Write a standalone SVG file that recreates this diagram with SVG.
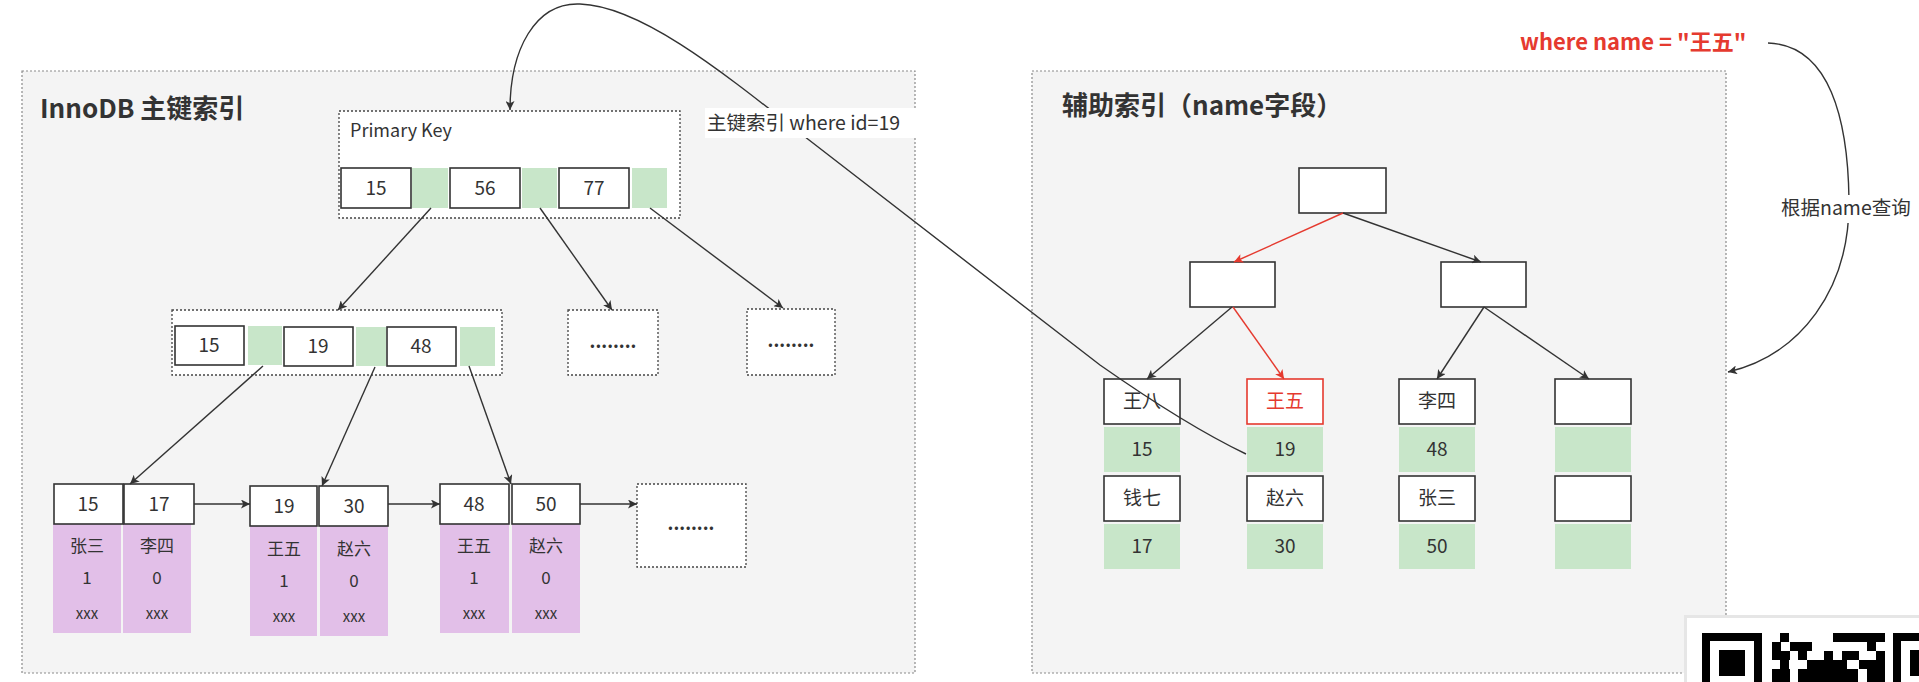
<svg xmlns="http://www.w3.org/2000/svg" width="1919" height="682" viewBox="0 0 1919 682">
<style>
text{font-family:"Noto Sans CJK SC","Noto Sans",sans-serif;fill:#333;}
.cont{fill:#f4f4f4;stroke:#8a8a8a;stroke-width:1.2;stroke-dasharray:2 2;}
.dot{fill:#fff;stroke:#444;stroke-width:1.3;stroke-dasharray:2 2;}
.cell{fill:#fff;stroke:#333;stroke-width:1.6;}
.g{fill:#c8e6c9;}
.p{fill:#e2bfe8;}
.t{font-size:19px;text-anchor:middle;}
.s{font-size:17px;text-anchor:middle;}
.x{font-size:15px;text-anchor:middle;}
.title{font-size:26px;font-weight:bold;}
.dots{font-size:18px;font-weight:bold;text-anchor:middle;}
.e{fill:none;stroke:#333;stroke-width:1.4;marker-end:url(#a);}
.r{fill:none;stroke:#e53a2f;stroke-width:1.4;marker-end:url(#ar);}
</style>
<defs>
<marker id="a" viewBox="0 0 10 10" refX="10" refY="5" markerWidth="11" markerHeight="9" markerUnits="userSpaceOnUse" orient="auto"><path d="M0,0 L10,5 L0,10 L2.5,5 z" fill="#333"/></marker>
<marker id="ar" viewBox="0 0 10 10" refX="10" refY="5" markerWidth="11" markerHeight="9" markerUnits="userSpaceOnUse" orient="auto"><path d="M0,0 L10,5 L0,10 L2.5,5 z" fill="#e53a2f"/></marker>
</defs>
<rect width="1919" height="682" fill="#fff"/>

<g id="innodb-container">
<rect class="cont" x="22" y="71" width="893" height="602"/>
<text class="title" x="40" y="118">InnoDB 主键索引</text>
</g>

<g id="secondary-container">
<rect class="cont" x="1032" y="71" width="694" height="602"/>
<text class="title" x="1062" y="115">辅助索引（name字段）</text>
</g>

<g id="pk-root">
<rect class="dot" x="339" y="111" width="341" height="107"/>
<text x="350" y="137" style="font-size:18px">Primary Key</text>
<rect class="cell" x="341" y="168" width="70" height="40"/><text class="t" x="376" y="195">15</text>
<rect class="g" x="412" y="168" width="36" height="40"/>
<rect class="cell" x="450" y="168" width="70" height="40"/><text class="t" x="485" y="195">56</text>
<rect class="g" x="522" y="168" width="35" height="40"/>
<rect class="cell" x="559" y="168" width="70" height="40"/><text class="t" x="594" y="195">77</text>
<rect class="g" x="632" y="168" width="35" height="40"/>
</g>

<g id="pk-mid">
<rect class="dot" x="172" y="310" width="330" height="65"/>
<rect class="cell" x="175" y="326" width="69" height="39"/><text class="t" x="209" y="352">15</text>
<rect class="g" x="248" y="326" width="34" height="39"/>
<rect class="cell" x="284" y="327" width="69" height="39"/><text class="t" x="318" y="353">19</text>
<rect class="g" x="356" y="327" width="30" height="39"/>
<rect class="cell" x="387" y="327" width="69" height="39"/><text class="t" x="421" y="353">48</text>
<rect class="g" x="460" y="327" width="35" height="39"/>
</g>

<g id="pk-dots1"><rect class="dot" x="568" y="310" width="90" height="65"/><text class="dots" x="613" y="348">........</text></g>
<g id="pk-dots2"><rect class="dot" x="747" y="309" width="88" height="66"/><text class="dots" x="791" y="347">........</text></g>

<g id="leaf1">
<rect class="p" x="53" y="524" width="68" height="109"/><rect class="p" x="123" y="524" width="68" height="109"/>
<rect class="cell" x="54" y="484" width="69" height="40"/><text class="t" x="88" y="511">15</text>
<rect class="cell" x="124" y="484" width="70" height="40"/><text class="t" x="159" y="511">17</text>
<text class="s" x="87" y="552">张三</text><text class="s" x="157" y="552">李四</text>
<text class="s" x="87" y="584">1</text><text class="s" x="157" y="584">0</text>
<text class="x" x="87" y="619">xxx</text><text class="x" x="157" y="619">xxx</text>
</g>

<g id="leaf2">
<rect class="p" x="250" y="526" width="67" height="110"/><rect class="p" x="320" y="526" width="68" height="110"/>
<rect class="cell" x="250" y="486" width="67" height="40"/><text class="t" x="284" y="513">19</text>
<rect class="cell" x="319" y="486" width="69" height="40"/><text class="t" x="354" y="513">30</text>
<text class="s" x="284" y="555">王五</text><text class="s" x="354" y="555">赵六</text>
<text class="s" x="284" y="587">1</text><text class="s" x="354" y="587">0</text>
<text class="x" x="284" y="622">xxx</text><text class="x" x="354" y="622">xxx</text>
</g>

<g id="leaf3">
<rect class="p" x="440" y="524" width="69" height="109"/><rect class="p" x="512" y="524" width="68" height="109"/>
<rect class="cell" x="440" y="484" width="69" height="40"/><text class="t" x="474" y="511">48</text>
<rect class="cell" x="512" y="484" width="68" height="40"/><text class="t" x="546" y="511">50</text>
<text class="s" x="474" y="552">王五</text><text class="s" x="546" y="552">赵六</text>
<text class="s" x="474" y="584">1</text><text class="s" x="546" y="584">0</text>
<text class="x" x="474" y="619">xxx</text><text class="x" x="546" y="619">xxx</text>
</g>

<g id="leaf-dots"><rect class="dot" x="637" y="484" width="109" height="83"/><text class="dots" x="691" y="530">........</text></g>

<g id="sec-root"><rect class="cell" x="1299" y="168" width="87" height="45"/></g>
<g id="sec-l"><rect class="cell" x="1190" y="262" width="85" height="45"/></g>
<g id="sec-r"><rect class="cell" x="1441" y="262" width="85" height="45"/></g>

<g id="sec-leaf1">
<rect class="cell" x="1104" y="379" width="76" height="45"/><text class="t" x="1142" y="408">王八</text>
<rect class="g" x="1104" y="427" width="76" height="45"/><text class="t" x="1142" y="456">15</text>
<rect class="cell" x="1104" y="476" width="76" height="45"/><text class="t" x="1142" y="505">钱七</text>
<rect class="g" x="1104" y="524" width="76" height="45"/><text class="t" x="1142" y="553">17</text>
</g>
<g id="sec-leaf2">
<rect class="cell" x="1247" y="379" width="76" height="45" style="stroke:#e53a2f"/><text class="t" x="1285" y="408" style="fill:#e53a2f">王五</text>
<rect class="g" x="1247" y="427" width="76" height="45"/><text class="t" x="1285" y="456">19</text>
<rect class="cell" x="1247" y="476" width="76" height="45"/><text class="t" x="1285" y="505">赵六</text>
<rect class="g" x="1247" y="524" width="76" height="45"/><text class="t" x="1285" y="553">30</text>
</g>
<g id="sec-leaf3">
<rect class="cell" x="1399" y="379" width="76" height="45"/><text class="t" x="1437" y="408">李四</text>
<rect class="g" x="1399" y="427" width="76" height="45"/><text class="t" x="1437" y="456">48</text>
<rect class="cell" x="1399" y="476" width="76" height="45"/><text class="t" x="1437" y="505">张三</text>
<rect class="g" x="1399" y="524" width="76" height="45"/><text class="t" x="1437" y="553">50</text>
</g>
<g id="sec-leaf4">
<rect class="cell" x="1555" y="379" width="76" height="45"/>
<rect class="g" x="1555" y="427" width="76" height="45"/>
<rect class="cell" x="1555" y="476" width="76" height="45"/>
<rect class="g" x="1555" y="524" width="76" height="45"/>
</g>

<g id="connectors">
<path class="e" d="M431,208 L338,310"/>
<path class="e" d="M540,208 L612,310"/>
<path class="e" d="M650,208 L783,308"/>
<path class="e" d="M263,366 L130,484"/>
<path class="e" d="M375,367 L322,486"/>
<path class="e" d="M469,366 L511,484"/>
<path class="e" d="M194,504 L250,504"/>
<path class="e" d="M388,504 L440,504"/>
<path class="e" d="M580,504 L637,504"/>
<path class="r" d="M1343,213 L1234,262"/>
<path class="e" d="M1343,213 L1481,262"/>
<path class="e" d="M1232,307 L1147,379"/>
<path class="r" d="M1233,307 L1284,379"/>
<path class="e" d="M1484,307 L1437,379"/>
<path class="e" d="M1484,307 L1589,379"/>
<path class="e" d="M1246,454 C1200,432 1150,400 1100,365 L800,133 C720,70 640,6 580,4 C535,2 510,50 510,110"/>
<path class="e" d="M1768,43 C1830,45 1848,120 1849,200 C1850,290 1800,355 1728,372"/>
</g>

<g id="label-pk">
<rect x="705" y="108" width="211" height="30" fill="#fff"/>
<text x="707" y="130" style="font-size:19.5px">主键索引 where id=19</text>
</g>
<g id="label-where">
<text x="1520" y="50" style="font-size:22px;font-weight:bold;fill:#e53a2f">where name = "王五"</text>
</g>
<g id="label-query">
<rect x="1779" y="195" width="140" height="28" fill="#fff"/>
<text x="1781" y="215" style="font-size:19.5px">根据name查询</text>
</g>

<g id="qr">
<rect x="1684" y="615" width="235" height="67" fill="#e6e6e6"/>
<rect x="1687" y="618" width="232" height="64" fill="#fff"/>
<rect x="1702" y="633" width="60" height="60" fill="#000"/>
<rect x="1710" y="641" width="44" height="44" fill="#fff"/>
<rect x="1719" y="650" width="26" height="26" fill="#000"/>
<rect x="1780" y="633" width="9" height="9" fill="#000"/>
<rect x="1833" y="633" width="52" height="9" fill="#000"/>
<rect x="1772" y="642" width="9" height="9" fill="#000"/>
<rect x="1790" y="642" width="22" height="9" fill="#000"/>
<rect x="1867" y="642" width="9" height="9" fill="#000"/>
<rect x="1772" y="651" width="18" height="9" fill="#000"/>
<rect x="1798" y="651" width="9" height="9" fill="#000"/>
<rect x="1824" y="651" width="9" height="9" fill="#000"/>
<rect x="1842" y="651" width="17" height="9" fill="#000"/>
<rect x="1876" y="651" width="9" height="9" fill="#000"/>
<rect x="1780" y="660" width="9" height="9" fill="#000"/>
<rect x="1807" y="660" width="40" height="9" fill="#000"/>
<rect x="1859" y="660" width="26" height="9" fill="#000"/>
<rect x="1772" y="669" width="18" height="13" fill="#000"/>
<rect x="1798" y="669" width="60" height="13" fill="#000"/>
<rect x="1867" y="669" width="18" height="13" fill="#000"/>
<rect x="1893" y="633" width="30" height="60" fill="#000"/>
<rect x="1901" y="641" width="30" height="44" fill="#fff"/>
<rect x="1910" y="650" width="20" height="26" fill="#000"/>
</g>
</svg>
